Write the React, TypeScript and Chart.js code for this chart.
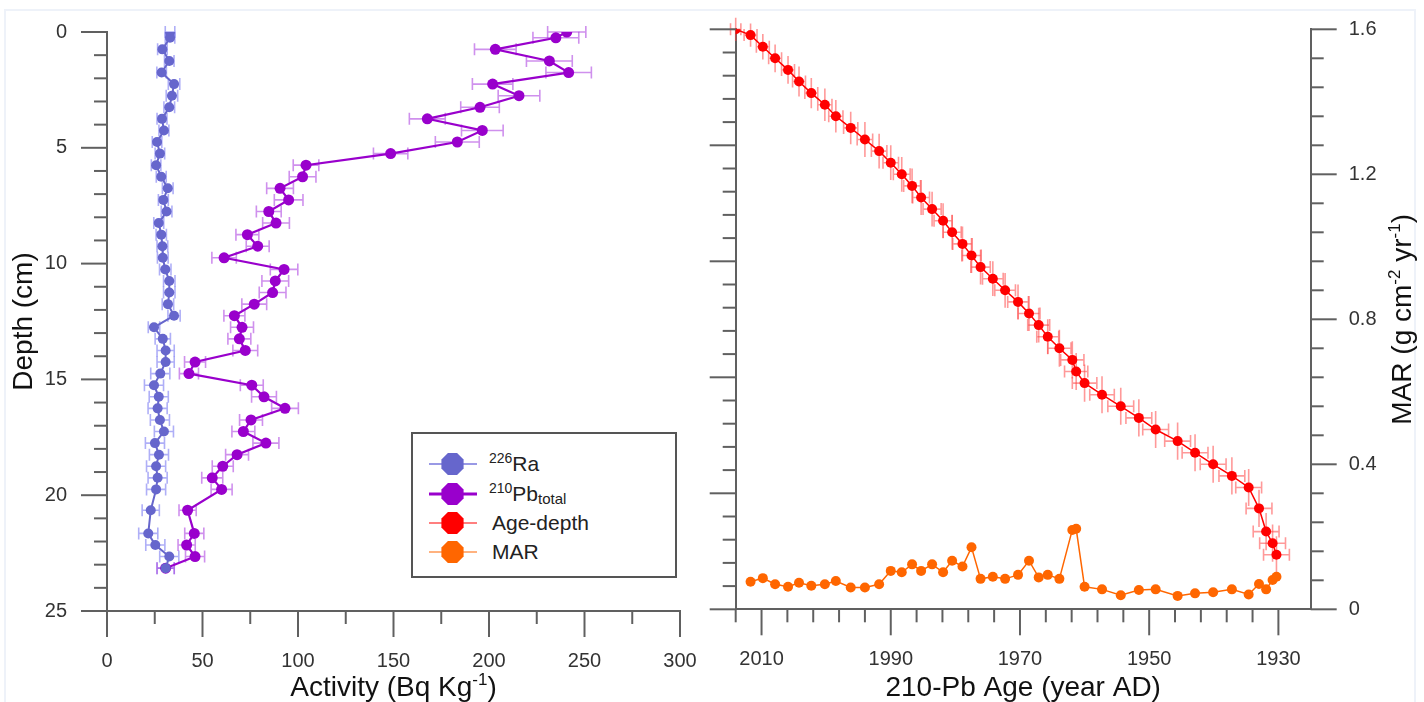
import React, { useEffect, useRef } from 'react';
import { Chart, registerables } from 'chart.js';

Chart.register(...registerables);

// ---------------- data ----------------
const depthCm = [0, 0.25, 0.75, 1.25, 1.75, 2.25, 2.75, 3.25, 3.75, 4.25, 4.75, 5.25, 5.75, 6.25, 6.75, 7.25, 7.75, 8.25, 8.75, 9.25, 9.75, 10.25, 10.75, 11.25, 11.75, 12.25, 12.75, 13.25, 13.75, 14.25, 14.75, 15.25, 15.75, 16.25, 16.75, 17.25, 17.75, 18.25, 18.75, 19.25, 19.75, 20.65, 21.65, 22.15, 22.65, 23.15];

const ra226 = [33, 33, 29, 32.6, 28.6, 35.1, 34, 32.6, 28.8, 29.8, 26.2, 27.7, 25.7, 28.4, 31.8, 29.5, 31.2, 27.1, 28.4, 29, 29.2, 30.5, 32.6, 32.6, 31.9, 35.1, 24.6, 29.2, 30.7, 30.7, 27.9, 24.6, 27.1, 26.5, 27.7, 29.8, 25.1, 27.2, 25.7, 26.5, 25.7, 22.9, 21.6, 25.3, 32.6, 30.7];
const ra226Err = [2.5, 2.5, 2.5, 2.5, 2.5, 3, 3, 2.8, 2.6, 2.6, 2.5, 2.5, 2.5, 2.6, 2.8, 2.6, 2.8, 2.6, 2.7, 2.8, 2.8, 3, 3, 3, 3, 3.2, 3, 4, 4.5, 4.5, 5, 5, 5, 5, 5, 5, 5, 5, 5, 5, 5, 4.5, 5, 5, 5, 4.5];

const pb210 = [240.7, 235, 203.3, 231.6, 241.7, 201.9, 215.7, 195.3, 167.7, 196.5, 183.4, 148.5, 104.2, 102.4, 90.6, 95.1, 84.7, 88.5, 73.5, 78.9, 61.3, 92.7, 88.1, 86.7, 77.1, 66.7, 70.7, 69.3, 72.4, 46.1, 42.9, 75.8, 82.2, 93.2, 75.4, 71.4, 83.2, 68.1, 60.6, 55.1, 60.0, 42.2, 45.7, 41.7, 46.1, 30.7];
const pb210Err = [10, 12, 10.9, 12, 11.9, 10.6, 10.9, 10.1, 9.4, 10.9, 11.5, 9, 6.7, 7, 7, 7.5, 6.5, 7, 6, 6, 6.4, 7.2, 7, 7, 6.5, 5.5, 6, 6, 6.5, 5.5, 5, 6, 6.5, 7, 6, 6, 6.8, 6, 5.5, 5.5, 5.5, 4.5, 5, 4.5, 5, 4.5];

const ageYearAD = [2014.0, 2011.7, 2009.8, 2007.9, 2005.9, 2004.2, 2002.3, 2000.2, 1998.5, 1996.2, 1994.0, 1991.8, 1990.0, 1988.3, 1986.7, 1985.3, 1983.6, 1981.9, 1980.5, 1978.9, 1977.5, 1976.1, 1974.2, 1972.3, 1970.3, 1968.6, 1967.1, 1965.7, 1963.9, 1961.9, 1961.3, 1960.0, 1957.3, 1954.4, 1951.6, 1949.0, 1945.6, 1942.9, 1940.1, 1937.2, 1934.6, 1933.0, 1931.9, 1930.9, 1930.3];
const ageErrYr = [0.8, 1, 1, 1, 1, 1, 1, 1.1, 1.1, 1.1, 1.2, 1.2, 1.2, 1.3, 1.3, 1.3, 1.4, 1.4, 1.4, 1.5, 1.5, 1.5, 1.6, 1.6, 1.6, 1.7, 1.7, 1.7, 1.8, 1.8, 1.8, 1.9, 1.9, 2, 2, 2, 2, 2, 2, 2, 2, 2, 2, 2, 2];
const ageDepthErrCm = [0.5, 0.5, 0.55, 0.6, 0.6, 0.65, 0.65, 0.7, 0.7, 0.7, 0.75, 0.75, 0.75, 0.75, 0.75, 0.75, 0.75, 0.75, 0.75, 0.75, 0.75, 0.75, 0.75, 0.75, 0.75, 0.75, 0.75, 0.75, 0.8, 0.8, 0.8, 0.8, 0.8, 0.8, 0.8, 0.8, 0.8, 0.8, 0.8, 0.8, 0.8, 0.8, 0.8, 0.8, 0.8];

// MAR values belong to ageYearAD[1..44]
const marValues = [0.076, 0.086, 0.069, 0.062, 0.073, 0.065, 0.069, 0.078, 0.060, 0.060, 0.069, 0.106, 0.102, 0.124, 0.106, 0.124, 0.102, 0.134, 0.118, 0.171, 0.084, 0.090, 0.084, 0.095, 0.134, 0.088, 0.095, 0.084, 0.219, 0.222, 0.062, 0.055, 0.039, 0.053, 0.055, 0.037, 0.044, 0.047, 0.055, 0.041, 0.070, 0.055, 0.081, 0.090];

// tick labels
const activityTickLabels = [0, 50, 100, 150, 200, 250, 300];
const depthTickLabels = [0, 5, 10, 15, 20, 25];
const ageTickLabels = [2010, 1990, 1970, 1950, 1930];
const marTickLabels = [0, 0.4, 0.8, 1.2, 1.6];

// series names
const seriesRa = '226Ra';
const seriesPb = '210Pb total';
const seriesAge = 'Age-depth';
const seriesMar = 'MAR';

// ---------------- styles ----------------
const FONT = '"Liberation Sans", Arial, Helvetica, sans-serif';
const AXIS_COLOR = '#606060';
const TICK_COLOR = '#333333';
const TITLE_COLOR = '#111111';
const RA_COLOR = '#6666CC';
const PB_COLOR = '#9900CC';
const AGE_COLOR = '#FF0000';
const MAR_COLOR = '#FF6600';

type Part = { t: string; sup?: boolean };

const activityTitle: Part[] = [{ t: 'Activity (Bq Kg' }, { t: '-1', sup: true }, { t: ')' }];
const depthTitle: Part[] = [{ t: 'Depth (cm)' }];
const ageTitle: Part[] = [{ t: '210-Pb Age (year AD)' }];
const marTitle: Part[] = [{ t: 'MAR (g cm' }, { t: '-2', sup: true }, { t: ' yr' }, { t: '-1', sup: true }, { t: ')' }];

function drawRich(ctx: any, parts: Part[], x: number, y: number, rot: number, size: number) {
  ctx.save();
  ctx.translate(x, y);
  ctx.rotate(rot);
  ctx.fillStyle = TITLE_COLOR;
  ctx.textBaseline = 'alphabetic';
  ctx.textAlign = 'left';
  const small = Math.round(size * 0.6);
  const widths = parts.map((p) => {
    ctx.font = `${p.sup ? small : size}px ${FONT}`;
    return ctx.measureText(p.t).width;
  });
  const total = widths.reduce((a, b) => a + b, 0);
  let cx = -total / 2;
  parts.forEach((p, i) => {
    ctx.font = `${p.sup ? small : size}px ${FONT}`;
    ctx.fillText(p.t, cx, p.sup ? -size * 0.4 : 0);
    cx += widths[i];
  });
  ctx.restore();
}

const errorBarPlugin = {
  id: 'errorBars',
  beforeDatasetsDraw(chart: any) {
    const ctx = chart.ctx;
    chart.data.datasets.forEach((ds: any, di: number) => {
      if (!ds.errX && !ds.errY) return;
      const meta = chart.getDatasetMeta(di);
      const xs = chart.scales[meta.xAxisID];
      const ys = chart.scales[meta.yAxisID];
      ctx.save();
      ctx.strokeStyle = ds.errColor;
      ctx.lineWidth = 1.6;
      const cap = 6;
      ds.data.forEach((pt: any, i: number) => {
        const px = xs.getPixelForValue(pt.x);
        const py = ys.getPixelForValue(pt.y);
        ctx.beginPath();
        if (ds.errX) {
          const e = ds.errX[i];
          const x1 = xs.getPixelForValue(pt.x - e);
          const x2 = xs.getPixelForValue(pt.x + e);
          ctx.moveTo(x1, py); ctx.lineTo(x2, py);
          ctx.moveTo(x1, py - cap); ctx.lineTo(x1, py + cap);
          ctx.moveTo(x2, py - cap); ctx.lineTo(x2, py + cap);
        }
        if (ds.errY) {
          const e = ds.errY[i];
          const y1 = ys.getPixelForValue(pt.y - e);
          const y2 = ys.getPixelForValue(pt.y + e);
          ctx.moveTo(px, y1); ctx.lineTo(px, y2);
        }
        ctx.stroke();
      });
      ctx.restore();
    });
  },
};

function makeTickPlugin(spec: Record<string, (v: number) => boolean>) {
  return {
    id: 'tickMarks',
    afterDraw(chart: any) {
      const ctx = chart.ctx;
      ctx.save();
      ctx.strokeStyle = AXIS_COLOR;
      ctx.lineWidth = 2;
      Object.keys(spec).forEach((id) => {
        const s = chart.scales[id];
        s.ticks.forEach((t: any) => {
          const p = s.getPixelForValue(t.value);
          const len = spec[id](t.value) ? 26 : 13;
          ctx.beginPath();
          if (s.position === 'left') { ctx.moveTo(s.right, p); ctx.lineTo(s.right - len, p); }
          else if (s.position === 'right') { ctx.moveTo(s.left, p); ctx.lineTo(s.left + len, p); }
          else { ctx.moveTo(p, s.top); ctx.lineTo(p, s.top + len); }
          ctx.stroke();
        });
      });
      ctx.restore();
    },
  };
}

const tickFont = { family: FONT, size: 20 };
const gridOpts = { display: true, drawOnChartArea: false, drawTicks: true, tickLength: 26, tickColor: 'rgba(0,0,0,0)' };
const borderOpts = { display: true, color: AXIS_COLOR, width: 2 };
const isMul = (v: number, m: number) => Math.abs(v / m - Math.round(v / m)) < 1e-6;

function LeftChart() {
  const ref = useRef<HTMLCanvasElement>(null);
  useEffect(() => {
    const titles = {
      id: 'titlesLeft',
      afterDraw(chart: any) {
        const ca = chart.chartArea;
        drawRich(chart.ctx, activityTitle, (ca.left + ca.right) / 2, 696, 0, 28);
        drawRich(chart.ctx, depthTitle, 32, (ca.top + ca.bottom) / 2, -Math.PI / 2, 28);
      },
    };
    const chart = new Chart(ref.current as HTMLCanvasElement, {
      type: 'scatter',
      data: {
        datasets: [
          {
            label: seriesRa,
            data: depthCm.map((d, i) => ({ x: ra226[i], y: d })),
            showLine: true,
            borderColor: RA_COLOR,
            backgroundColor: RA_COLOR,
            borderWidth: 2,
            pointRadius: 5,
            pointBorderWidth: 0,
            pointBackgroundColor: RA_COLOR,
            errX: ra226Err,
            errColor: 'rgba(110,110,240,0.55)',
          } as any,
          {
            label: seriesPb,
            data: depthCm.map((d, i) => ({ x: pb210[i], y: d })),
            showLine: true,
            borderColor: PB_COLOR,
            backgroundColor: PB_COLOR,
            borderWidth: 2.2,
            pointRadius: 5.5,
            pointBorderWidth: 0,
            pointBackgroundColor: PB_COLOR,
            errX: pb210Err,
            errColor: 'rgba(175,70,225,0.6)',
          } as any,
        ],
      },
      options: {
        responsive: false,
        animation: false,
        devicePixelRatio: 1,
        layout: { padding: { left: 0, top: 32, right: 40, bottom: 0 } },
        plugins: { legend: { display: false }, tooltip: { enabled: false } },
        scales: {
          x: {
            type: 'linear',
            position: 'bottom',
            min: 0,
            max: 300,
            afterFit: (s: any) => { s.height = 91; },
            ticks: {
              stepSize: 25,
              autoSkip: false,
              maxRotation: 0,
              padding: 12,
              font: tickFont,
              color: TICK_COLOR,
              callback: (v: any) => (activityTickLabels.includes(Number(v)) ? String(v) : ''),
            },
            grid: gridOpts,
            border: borderOpts,
          },
          y: {
            type: 'linear',
            position: 'left',
            reverse: true,
            min: 0,
            max: 25,
            afterFit: (s: any) => { s.width = 107; },
            ticks: {
              stepSize: 1,
              autoSkip: false,
              padding: 14,
              font: tickFont,
              color: TICK_COLOR,
              callback: (v: any) => (depthTickLabels.includes(Number(v)) ? String(v) : ''),
            },
            grid: gridOpts,
            border: borderOpts,
          },
        },
      } as any,
      plugins: [
        errorBarPlugin,
        makeTickPlugin({ x: (v) => isMul(v, 50), y: (v) => isMul(v, 5) }),
        titles,
      ],
    });
    return () => chart.destroy();
  }, []);
  return <canvas ref={ref} width={720} height={702} style={{ position: 'absolute', left: 0, top: 0, width: 720, height: 702 }} />;
}

function RightChart() {
  const ref = useRef<HTMLCanvasElement>(null);
  useEffect(() => {
    const titles = {
      id: 'titlesRight',
      afterDraw(chart: any) {
        const ca = chart.chartArea;
        drawRich(chart.ctx, ageTitle, (ca.left + ca.right) / 2, 696, 0, 28);
        drawRich(chart.ctx, marTitle, 711, (ca.top + ca.bottom) / 2, -Math.PI / 2, 28);
      },
    };
    const yearTicks: number[] = [];
    for (let y = 1930; y <= 2014; y += 4) yearTicks.push(y);
    const marMinor: number[] = [];
    for (let i = 0; i <= 20; i++) marMinor.push(Math.round(i * 8) / 100);

    const chart = new Chart(ref.current as HTMLCanvasElement, {
      type: 'scatter',
      data: {
        datasets: [
          {
            label: seriesAge,
            data: ageYearAD.map((yr, i) => ({ x: yr, y: depthCm[i] })),
            yAxisID: 'yDepth',
            showLine: true,
            borderColor: AGE_COLOR,
            backgroundColor: AGE_COLOR,
            borderWidth: 1.5,
            pointRadius: 5,
            pointBorderWidth: 0,
            pointBackgroundColor: AGE_COLOR,
            errX: ageErrYr,
            errY: ageDepthErrCm,
            errColor: 'rgba(255,70,70,0.55)',
          } as any,
          {
            label: seriesMar,
            data: marValues.map((m, i) => ({ x: ageYearAD[i + 1], y: m })),
            yAxisID: 'yMar',
            showLine: true,
            borderColor: MAR_COLOR,
            backgroundColor: MAR_COLOR,
            borderWidth: 1.5,
            pointRadius: 5,
            pointBorderWidth: 0,
            pointBackgroundColor: MAR_COLOR,
          } as any,
        ],
      },
      options: {
        responsive: false,
        animation: false,
        devicePixelRatio: 1,
        layout: { padding: { left: 0, top: 29.3, right: 0, bottom: 0 } },
        plugins: { legend: { display: false }, tooltip: { enabled: false } },
        scales: {
          x: {
            type: 'linear',
            position: 'bottom',
            min: 1925,
            max: 2014,
            reverse: true,
            afterFit: (s: any) => { s.height = 92.7; },
            afterBuildTicks: (s: any) => { s.ticks = yearTicks.map((v) => ({ value: v })); },
            ticks: {
              autoSkip: false,
              maxRotation: 0,
              padding: 12,
              font: tickFont,
              color: TICK_COLOR,
              callback: (v: any) => (ageTickLabels.includes(Number(v)) ? String(v) : ''),
            },
            grid: gridOpts,
            border: borderOpts,
          },
          yDepth: {
            type: 'linear',
            position: 'left',
            reverse: true,
            min: 0,
            max: 25,
            afterFit: (s: any) => { s.width = 35.7; },
            ticks: { stepSize: 1, display: false, autoSkip: false },
            grid: gridOpts,
            border: borderOpts,
          },
          yMar: {
            type: 'linear',
            position: 'right',
            min: 0,
            max: 1.6,
            afterFit: (s: any) => { s.width = 113.3; },
            afterBuildTicks: (s: any) => { s.ticks = marMinor.map((v) => ({ value: v })); },
            ticks: {
              autoSkip: false,
              padding: 12,
              font: tickFont,
              color: TICK_COLOR,
              callback: (v: any) => {
                const n = Number(v);
                return marTickLabels.some((m) => Math.abs(m - n) < 1e-6) ? String(Math.round(n * 10) / 10) : '';
              },
            },
            grid: gridOpts,
            border: borderOpts,
          },
        },
      } as any,
      plugins: [
        errorBarPlugin,
        makeTickPlugin({
          x: (v) => ageTickLabels.includes(v),
          yDepth: (v) => isMul(v, 5),
          yMar: (v) => marTickLabels.some((m) => Math.abs(m - v) < 1e-6),
        }),
        titles,
      ],
    });
    return () => chart.destroy();
  }, []);
  return <canvas ref={ref} width={724} height={702} style={{ position: 'absolute', left: 700, top: 0, width: 724, height: 702 }} />;
}

function Octagon({ color, line, lw }: { color: string; line: string; lw: number }) {
  const cx = 24.5, cy = 15, r = 12;
  const pts: string[] = [];
  for (let k = 0; k < 8; k++) {
    const a = ((22.5 + 45 * k) * Math.PI) / 180;
    pts.push(`${(cx + r * Math.cos(a)).toFixed(2)},${(cy + r * Math.sin(a)).toFixed(2)}`);
  }
  return (
    <svg width={50} height={30} style={{ position: 'absolute', left: 0, top: 0 }}>
      <line x1={1} y1={cy} x2={49} y2={cy} stroke={line} strokeWidth={lw} />
      <polygon points={pts.join(' ')} fill={color} />
    </svg>
  );
}

function Legend() {
  const rows = [
    { y: 463.5, color: RA_COLOR, line: '#7777dd', lw: 1.5, sup: seriesRa.slice(0, 3), main: seriesRa.slice(3), sub: '', tx: 489 },
    { y: 493.5, color: PB_COLOR, line: PB_COLOR, lw: 3, sup: seriesPb.slice(0, 3), main: 'Pb', sub: 'total', tx: 489 },
    { y: 522.7, color: AGE_COLOR, line: '#ff5555', lw: 1.5, sup: '', main: seriesAge, sub: '', tx: 492 },
    { y: 551.7, color: MAR_COLOR, line: '#ff9955', lw: 1.5, sup: '', main: seriesMar, sub: '', tx: 492 },
  ];
  return (
    <>
      <div style={{ position: 'absolute', left: 411, top: 432, width: 266, height: 146, border: '2px solid #555', boxSizing: 'border-box', background: '#fff' }} />
      {rows.map((r, i) => (
        <React.Fragment key={i}>
          <div style={{ position: 'absolute', left: 428, top: r.y - 15, width: 50, height: 30 }}>
            <Octagon color={r.color} line={r.line} lw={r.lw} />
          </div>
          <div style={{ position: 'absolute', left: r.tx, top: r.y - 15, height: 30, lineHeight: '30px', fontFamily: FONT, fontSize: 21, color: '#222', whiteSpace: 'nowrap' }}>
            {r.sup ? <span style={{ fontSize: 14, position: 'relative', top: -8 }}>{r.sup}</span> : null}
            <span>{r.main}</span>
            {r.sub ? <span style={{ fontSize: 15, position: 'relative', top: 3 }}>{r.sub}</span> : null}
          </div>
        </React.Fragment>
      ))}
    </>
  );
}

export default function App() {
  return (
    <div style={{ position: 'absolute', left: 0, top: 0, width: 1424, height: 702, overflow: 'hidden', background: '#fff' }}>
      <div style={{ position: 'absolute', left: 4, top: 9, width: 1412, height: 700, borderTop: '2px solid #eef2f9', borderLeft: '2px solid #eef2f9', borderRight: '2px solid #eef2f9', boxSizing: 'border-box' }} />
      <LeftChart />
      <RightChart />
      <Legend />
    </div>
  );
}
